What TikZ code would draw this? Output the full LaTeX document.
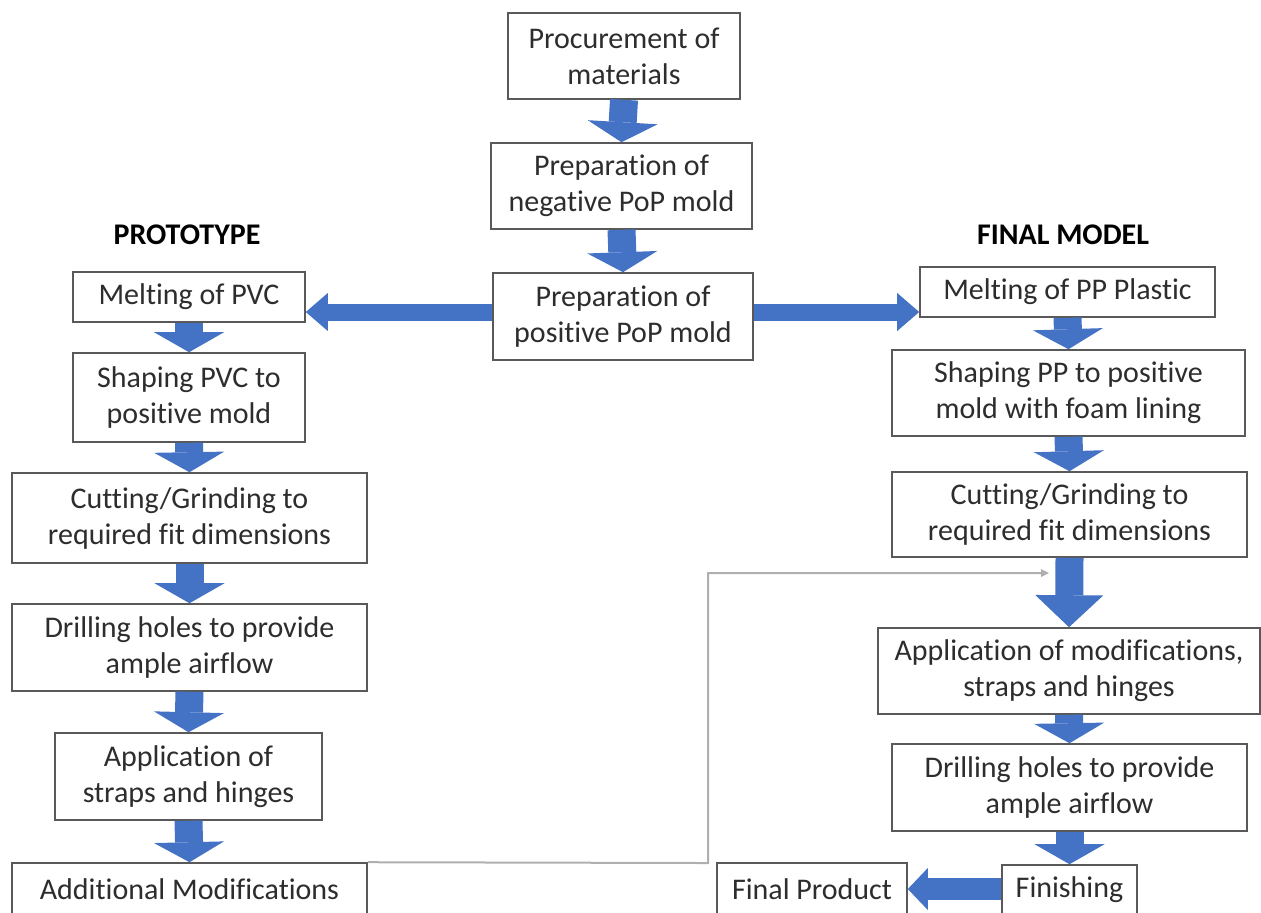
\documentclass[tikz,border=0pt]{standalone}
\usepackage{fontspec}
\setmainfont{Carlito}[Ligatures=NoCommon]
\usetikzlibrary{arrows.meta}
\definecolor{ablue}{RGB}{68,114,196}
\definecolor{bgray}{RGB}{89,89,89}
\definecolor{lgray}{RGB}{175,175,175}
\definecolor{tgray}{RGB}{45,45,45}
\tikzset{
  box/.style={draw=bgray, line width=0.8pt, fill=white, align=center, inner sep=0pt,
    font=\fontsize{15}{18}\selectfont, text=tgray},
  ttl/.style={font=\fontsize{15}{18}\selectfont\bfseries, text=black},
  varrow/.style={draw=ablue, line width=14pt,
    -{Triangle[width=35pt,length=10pt,line width=0pt 0 0]}},
  bigvarrow/.style={draw=ablue, line width=14pt,
    -{Triangle[width=34pt,length=16pt,line width=0pt 0 0]}},
  harrow/.style={draw=ablue, line width=8.5pt,
    -{Triangle[width=19pt,length=11pt,line width=0pt 0 0]}},
  harrowb/.style={draw=ablue, line width=11pt,
    -{Triangle[width=21pt,length=10pt,line width=0pt 0 0]}},
  link/.style={draw=lgray, line width=1pt,
    -{Triangle[width=4pt,length=4pt,line width=0pt 0 0]}}
}
\begin{document}
\begin{tikzpicture}[x=0.5pt,y=-0.5pt]
\useasboundingbox (0,0) rectangle (1261,912);
% centre column
\node[box, minimum width=116pt, minimum height=43pt] (proc) at (624,56) {Procurement of\\materials};
\node[box, minimum width=130.5pt, minimum height=43pt] (neg) at (621.5,186) {Preparation of\\negative PoP mold};
\node[box, minimum width=130pt, minimum height=43.5pt] (pos) at (623,316.5) {Preparation of\\positive PoP mold};
% titles
\node[ttl] (tproto) at (187,235) {PROTOTYPE};
\node[ttl] (tfinal) at (1063,235) {FINAL MODEL};
% left column
\node[box, minimum width=116pt, minimum height=25pt] (mpvc) at (189,297) {Melting of PVC};
\node[box, minimum width=116pt, minimum height=44.5pt] (spvc) at (189,397.5) {Shaping PVC to\\positive mold};
\node[box, minimum width=177.5pt, minimum height=45pt] (cutl) at (189.5,518) {Cutting/Grinding to\\required fit dimensions};
\node[box, minimum width=177.5pt, minimum height=43.5pt] (drl) at (189.5,647.5) {Drilling holes to provide\\ample airflow};
\node[box, minimum width=133.5pt, minimum height=43.5pt] (appl) at (188.5,776.5) {Application of\\straps and hinges};
\node[box, minimum width=177.5pt, minimum height=26pt] (addl) at (189.5,889) {Additional Modifications};
% right column
\node[box, minimum width=147.5pt, minimum height=25pt] (mpp) at (1067.5,292) {Melting of PP Plastic};
\node[box, minimum width=176.5pt, minimum height=43pt] (spp) at (1068.5,393) {Shaping PP to positive\\mold with foam lining};
\node[box, minimum width=177.5pt, minimum height=42.5pt] (cutr) at (1069.5,514.5) {Cutting/Grinding to\\required fit dimensions};
\node[box, minimum width=191pt, minimum height=43pt] (appr) at (1069,671) {Application of modifications,\\straps and hinges};
\node[box, minimum width=177.5pt, minimum height=43.5pt] (drr) at (1069.5,787.5) {Drilling holes to provide\\ample airflow};
\node[box, minimum width=67.5pt, minimum height=25pt] (fin) at (1069.5,890) {Finishing};
\node[box, minimum width=95pt, minimum height=26pt] (fprod) at (812,889) {Final Product};
% vertical arrows
\draw[varrow] (proc.south) -- (neg.north);
\draw[varrow] (neg.south) -- (pos.north);
\draw[varrow] (mpvc.south) -- (spvc.north);
\draw[varrow] (spvc.south) -- (cutl.north);
\draw[varrow] (cutl.south) -- (drl.north);
\draw[varrow] (drl.south) -- (appl.north);
\draw[varrow] (appl.south) -- (addl.north);
\draw[varrow] (mpp.south) -- (spp.north);
\draw[varrow] (spp.south) -- (cutr.north);
\draw[bigvarrow] (cutr.south) -- (appr.north);
\draw[varrow] (appr.south) -- (drr.north);
\draw[varrow] (drr.south) -- (fin.north);
% horizontal arrows
\coordinate (hy) at (0,312);
\coordinate (fy) at (0,889);
\draw[harrow] (pos.west |- hy) -- (mpvc.east |- hy);
\draw[harrow] (pos.east |- hy) -- (mpp.west |- hy);
\draw[harrowb] (fin.west |- fy) -- (fprod.east |- fy);
% feedback link
\coordinate (lk1) at (708,863);
\coordinate (lk2) at (708,573);
\coordinate (lkend) at (1049,573);
\draw[link] (addl.north east) -- (lk1) -- (lk2) -- (lkend);
\end{tikzpicture}
\end{document}
